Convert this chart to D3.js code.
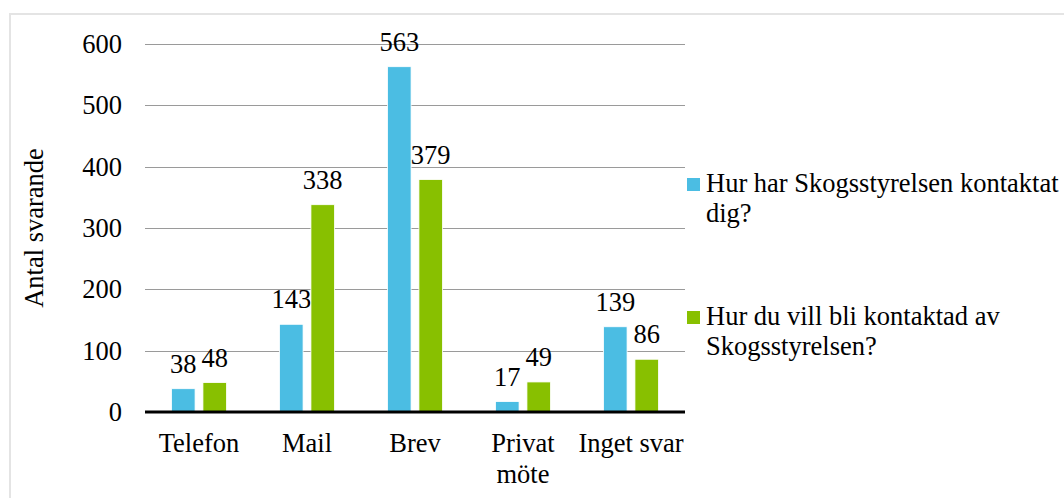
<!DOCTYPE html>
<html>
<head>
<meta charset="utf-8">
<script src="https://cdn.jsdelivr.net/npm/d3@7"></script>
<style>
  body { margin: 0; background: #fff; }
  text { font-family: "Liberation Serif", "Times New Roman", serif; fill: #000; }
</style>
</head>
<body>
<div id="root"></div>
<script>
var categories = ['Telefon', 'Mail', 'Brev', 'Privat möte', 'Inget svar'];
var seriesNames = ['Hur har Skogsstyrelsen kontaktat dig?', 'Hur du vill bli kontaktad av Skogsstyrelsen?'];
var contacted = [38, 143, 563, 17, 139];
var wanted = [48, 338, 379, 49, 86];
var yTicks = [0, 100, 200, 300, 400, 500, 600];
var colors = ['#4bbde3', '#88c000'];

var width = 1064;
var height = 498;
var fontSize = 26.5;

var svg = d3.select('#root')
  .append('svg')
    .attr('width', width)
    .attr('height', height);

// outer chart border
svg.append('rect')
  .attr('x', 10).attr('y', 14)
  .attr('width', width + 10).attr('height', height + 10)
  .attr('fill', 'none')
  .attr('stroke', '#e4e4e4')
  .attr('stroke-width', 2);

var plotLeft = 145, plotRight = 685, plotTop = 44, plotBottom = 412;

var x = d3.scaleBand().domain(categories).range([plotLeft, plotRight]);
var groupW = 55;
var x1 = d3.scaleBand().domain([0, 1]).range([0, groupW]).paddingInner(0.25);
var y = d3.scaleLinear().domain([0, 600]).range([plotBottom, plotTop]);

// gridlines
svg.append('g').selectAll('line')
  .data(yTicks.filter(function(d) { return d > 0; }))
  .enter().append('line')
    .attr('x1', plotLeft).attr('x2', plotRight)
    .attr('y1', function(d) { return Math.round(y(d)) + 0.5; })
    .attr('y2', function(d) { return Math.round(y(d)) + 0.5; })
    .attr('stroke', '#9a9a9a')
    .attr('stroke-width', 1);

// y tick labels
svg.append('g').selectAll('text')
  .data(yTicks)
  .enter().append('text')
    .attr('x', 122)
    .attr('y', function(d) { return y(d) + 9; })
    .attr('text-anchor', 'end')
    .style('font-size', fontSize + 'px')
    .text(function(d) { return d; });

// y axis title
svg.append('text')
  .attr('transform', 'translate(43,' + 228 + ') rotate(-90)')
  .attr('text-anchor', 'middle')
  .style('font-size', fontSize + 'px')
  .text('Antal svarande');

var series = [contacted, wanted];

series.forEach(function(vals, si) {
  var g = svg.append('g');
  g.selectAll('rect')
    .data(vals)
    .enter().append('rect')
      .attr('x', function(d, i) { return x(categories[i]) + (x.bandwidth() - groupW) / 2 + x1(si); })
      .attr('y', function(d) { return y(d); })
      .attr('width', x1.bandwidth())
      .attr('height', function(d) { return plotBottom - y(d); })
      .attr('fill', colors[si])
      .attr('stroke', '#fff')
      .attr('stroke-width', 0.8);

  g.selectAll('text')
    .data(vals)
    .enter().append('text')
      .attr('x', function(d, i) { return x(categories[i]) + (x.bandwidth() - groupW) / 2 + x1(si) + x1.bandwidth() / 2; })
      .attr('y', function(d) { return y(d) - 16; })
      .attr('text-anchor', 'middle')
      .style('font-size', fontSize + 'px')
      .text(function(d) { return d; });
});

// zero axis line
svg.append('line')
  .attr('x1', plotLeft).attr('x2', plotRight)
  .attr('y1', plotBottom).attr('y2', plotBottom)
  .attr('stroke', '#000')
  .attr('stroke-width', 3);

// category labels (wrapped where needed)
var catLines = {'Privat möte': ['Privat', 'möte']};
svg.append('g').selectAll('text')
  .data(categories)
  .enter().append('text')
    .attr('x', function(d) { return x(d) + x.bandwidth() / 2; })
    .attr('y', 452)
    .attr('text-anchor', 'middle')
    .style('font-size', fontSize + 'px')
    .each(function(d) {
      var lines = catLines[d] || [d];
      var t = d3.select(this);
      lines.forEach(function(l, i) {
        t.append('tspan')
          .attr('x', x(d) + x.bandwidth() / 2)
          .attr('dy', i === 0 ? 0 : 31)
          .text(l);
      });
    });

// legend
var legendLines = [
  ['Hur har Skogsstyrelsen kontaktat', 'dig?'],
  ['Hur du vill bli kontaktad av', 'Skogsstyrelsen?']
];
var legendY = [192, 325];
legendLines.forEach(function(lines, i) {
  svg.append('rect')
    .attr('x', 687).attr('y', legendY[i] - 14)
    .attr('width', 13).attr('height', 13)
    .attr('fill', colors[i]);
  var t = svg.append('text')
    .attr('x', 706).attr('y', legendY[i])
    .style('font-size', fontSize + 'px');
  lines.forEach(function(l, j) {
    t.append('tspan')
      .attr('x', 706)
      .attr('dy', j === 0 ? 0 : 30)
      .text(l);
  });
});
</script>
</body>
</html>
